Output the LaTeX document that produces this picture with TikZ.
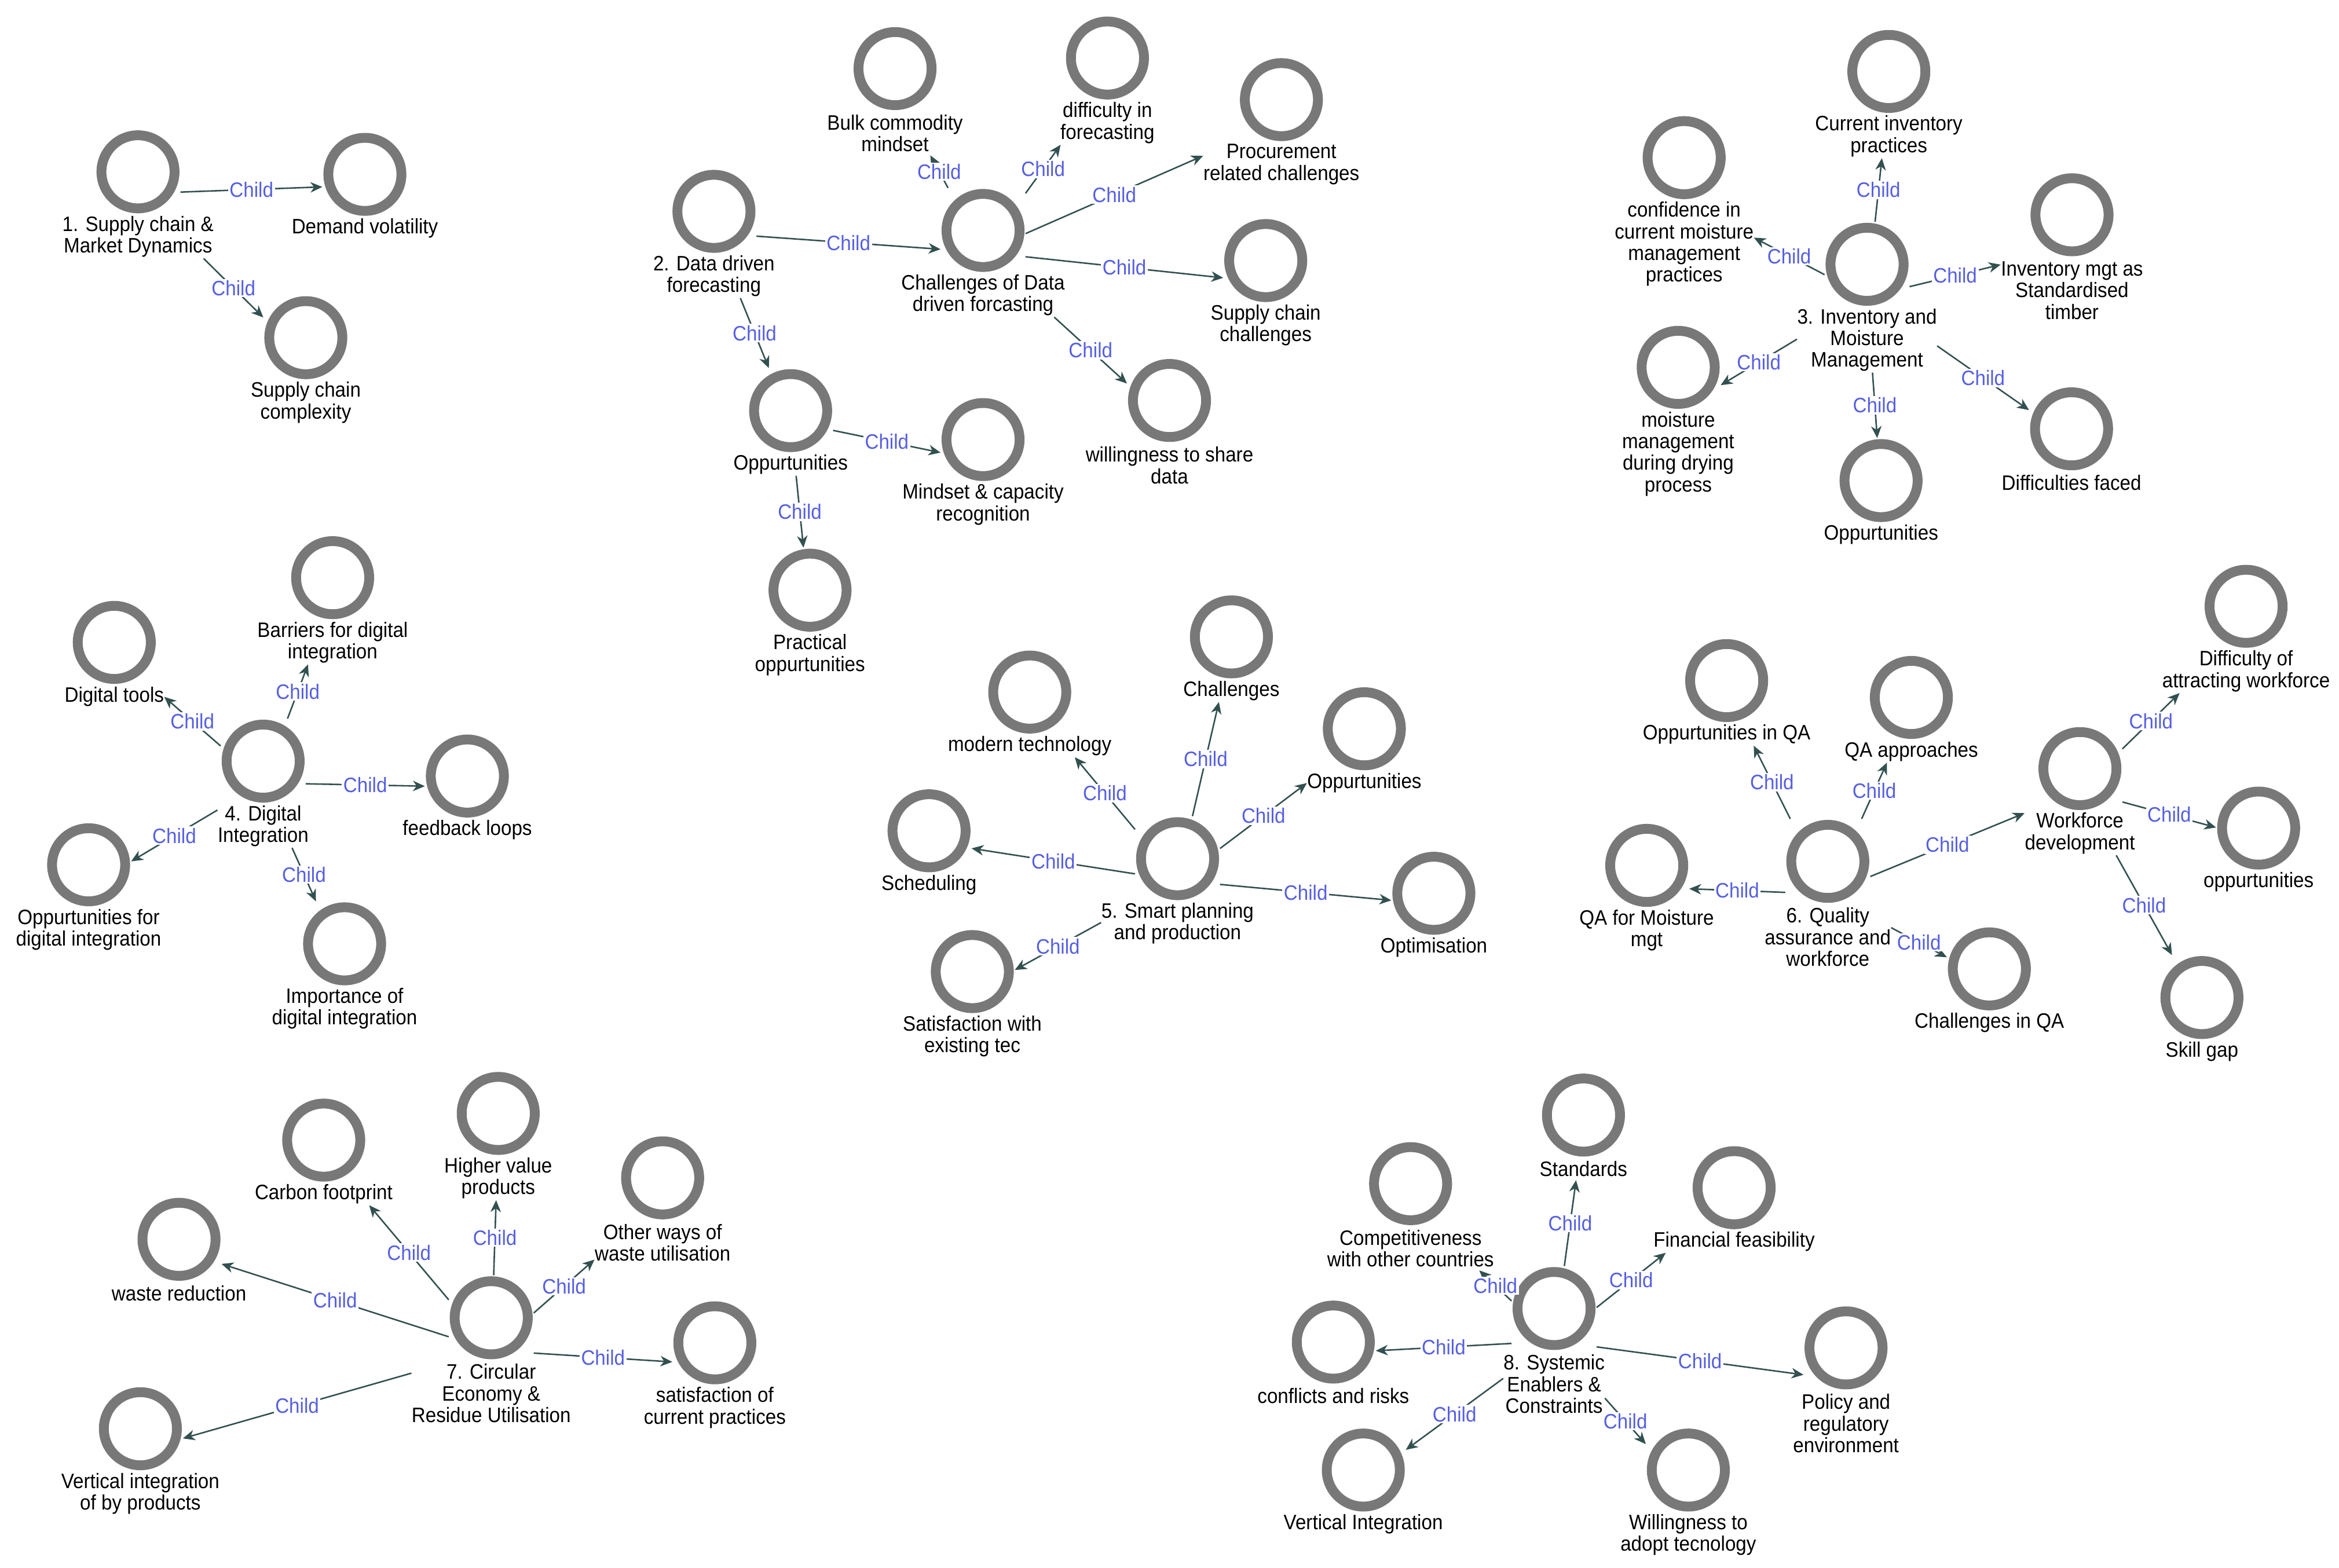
\documentclass[tikz,border=0pt]{standalone}
\usepackage{fontspec}
\setmainfont{Liberation Sans}[FakeStretch=0.92]
\usetikzlibrary{arrows.meta,intersections}
\definecolor{ringgray}{RGB}{120,120,120}
\definecolor{conncol}{RGB}{50,80,80}
\definecolor{childcol}{RGB}{85,95,225}
\newcommand{\lblfont}{\fontsize{14}{14.5}\selectfont}
\tikzset{
  ring/.style={circle, draw=ringgray, line width=6.6pt, fill=white, minimum size=49pt, inner sep=0pt},
  lbl/.style={anchor=north, inner sep=0pt, align=center, font=\lblfont, text=black},
  conn/.style={draw=conncol, line width=1pt, -{Stealth[length=8pt,width=7pt,inset=2.5pt]}},
  chl/.style={text=childcol, fill=white, inner sep=1pt, font=\lblfont}
}
% name, x, y, number of label lines, label
\newcommand{\topic}[5]{%
  \node[ring] (#1) at (#2,#3) {};
  \node[lbl, minimum height={14.5*#4}] (#1l) at ({#2},{#3+28.75}) {#5};
  \coordinate (#1m) at ({#2},{#3+0.125+7.25*#4});
  \path[name path global=#1o] ({#2-28.5},{#3-28.5}) -- ({#2+28.5},{#3-28.5}) -- ({#2+28.5},{#3+28.75})
     -- (#1l.north east) -- (#1l.south east) -- (#1l.south west) -- (#1l.north west)
     -- ({#2-28.5},{#3+28.75}) -- cycle;
}
\newcommand{\edge}[2]{%
  \path[name path=ln] (#1m) -- (#2m);
  \path[name intersections={of=ln and #1o, sort by=ln, name=sa, total=\nsa}] (sa-\nsa) coordinate (#1#2a);
  \path[name intersections={of=ln and #2o, sort by=ln, name=eb}] (eb-1) coordinate (#1#2b);
  \draw[conn] (#1#2a) -- node[chl] {Child} (#1#2b);
}
\begin{document}
\begin{tikzpicture}[x=1pt,y=-1pt]
\fill[white] (0,0) rectangle (1568,1051);
\useasboundingbox (0,0) rectangle (1568,1051);

% Group 1
\topic{A1}{92.5}{115.2}{2}{1. Supply chain \&\\Market Dynamics}
\topic{A2}{244.6}{116.9}{1}{Demand volatility}
\topic{A3}{205}{226.4}{2}{Supply chain\\complexity}

% Group 2
\topic{B1}{478.6}{141.7}{2}{2. Data driven\\forecasting}
\topic{B2}{659}{154.5}{2}{Challenges of Data\\driven forcasting}
\topic{B3}{600}{46}{2}{Bulk commodity\\mindset}
\topic{B4}{742.4}{38.9}{2}{difficulty in\\forecasting}
\topic{B5}{859}{66.8}{2}{Procurement\\related challenges}
\topic{B6}{848.5}{174.7}{2}{Supply chain\\challenges}
\topic{B7}{784}{268.5}{2}{willingness to share\\data}
\topic{B8}{530}{275.3}{1}{Oppurtunities}
\topic{B9}{659}{294.7}{2}{Mindset \& capacity\\recognition}
\topic{B10}{543}{395.7}{2}{Practical\\oppurtunities}

% Group 3
\topic{C1}{1251.6}{177.2}{3}{3. Inventory and\\Moisture\\Management}
\topic{C2}{1266.2}{47.9}{2}{Current inventory\\practices}
\topic{C3}{1129}{105.7}{4}{confidence in\\current moisture\\management\\practices}
\topic{C4}{1389}{144}{3}{Inventory mgt as\\Standardised\\timber}
\topic{C5}{1125}{246.3}{4}{moisture\\management\\during drying\\process}
\topic{C6}{1261}{322.2}{1}{Oppurtunities}
\topic{C7}{1388.7}{287.5}{1}{Difficulties faced}

% Group 4
\topic{D1}{176.4}{510.3}{2}{4. Digital\\Integration}
\topic{D2}{223}{387.3}{2}{Barriers for digital\\integration}
\topic{D3}{76.6}{430.7}{1}{Digital tools}
\topic{D4}{313.3}{520.3}{1}{feedback loops}
\topic{D5}{59.4}{579.8}{2}{Oppurtunities for\\digital integration}
\topic{D6}{231}{632.8}{2}{Importance of\\digital integration}

% Group 5
\topic{E1}{789.4}{575.7}{2}{5. Smart planning\\and production}
\topic{E2}{825.5}{427}{1}{Challenges}
\topic{E3}{690.3}{464}{1}{modern technology}
\topic{E4}{914.6}{488.6}{1}{Oppurtunities}
\topic{E5}{622.8}{557}{1}{Scheduling}
\topic{E6}{961.2}{598.9}{1}{Optimisation}
\topic{E7}{651.8}{651.4}{2}{Satisfaction with\\existing tec}

% Group 6
\topic{F1}{1225.3}{577.5}{3}{6. Quality\\assurance and\\workforce}
\topic{F2}{1157.5}{456.3}{1}{Oppurtunities in QA}
\topic{F3}{1281.3}{467.6}{1}{QA approaches}
\topic{F4}{1103.9}{580.2}{2}{QA for Moisture\\mgt}
\topic{F5}{1333.6}{649.6}{1}{Challenges in QA}
\topic{F6}{1394.3}{515.3}{2}{Workforce\\development}
\topic{F7}{1505.7}{406.5}{2}{Difficulty of\\attracting workforce}
\topic{F8}{1514.1}{555.2}{1}{oppurtunities}
\topic{F9}{1476.1}{668.8}{1}{Skill gap}

% Group 7
\topic{G1}{329.3}{883.5}{3}{7. Circular\\Economy \&\\Residue Utilisation}
\topic{G2}{217}{764.4}{1}{Carbon footprint}
\topic{G3}{334}{746.5}{2}{Higher value\\products}
\topic{G4}{444.2}{789.7}{2}{Other ways of\\waste utilisation}
\topic{G5}{120}{830.9}{1}{waste reduction}
\topic{G6}{479.2}{900.3}{2}{satisfaction of\\current practices}
\topic{G7}{94.1}{957.9}{2}{Vertical integration\\of by products}

% Group 8
\topic{H1}{1041.8}{877.3}{3}{8. Systemic\\Enablers \&\\Constraints}
\topic{H2}{1061.5}{747.6}{1}{Standards}
\topic{H3}{945.6}{793.6}{2}{Competitiveness\\with other countries}
\topic{H4}{1162.5}{796.3}{1}{Financial feasibility}
\topic{H5}{893.8}{899.8}{1}{conflicts and risks}
\topic{H6}{1237.5}{903.7}{3}{Policy and\\regulatory\\environment}
\topic{H7}{913.9}{985.6}{1}{Vertical Integration}
\topic{H8}{1131.8}{985.6}{2}{Willingness to\\adopt tecnology}

% Connectors
\edge{A1}{A2}
\edge{A1}{A3}

\edge{B1}{B2}
\edge{B1}{B8}
\edge{B2}{B3}
\edge{B2}{B4}
\edge{B2}{B5}
\edge{B2}{B6}
\edge{B2}{B7}
\edge{B8}{B9}
\edge{B8}{B10}

\edge{C1}{C2}
\edge{C1}{C3}
\edge{C1}{C4}
\edge{C1}{C5}
\edge{C1}{C6}
\edge{C1}{C7}

\edge{D1}{D2}
\edge{D1}{D3}
\edge{D1}{D4}
\edge{D1}{D5}
\edge{D1}{D6}

\edge{E1}{E2}
\edge{E1}{E3}
\edge{E1}{E4}
\edge{E1}{E5}
\edge{E1}{E6}
\edge{E1}{E7}

\edge{F1}{F2}
\edge{F1}{F3}
\edge{F1}{F4}
\edge{F1}{F5}
\edge{F1}{F6}
\edge{F6}{F7}
\edge{F6}{F8}
\edge{F6}{F9}

\edge{G1}{G2}
\edge{G1}{G3}
\edge{G1}{G4}
\edge{G1}{G5}
\edge{G1}{G6}
\edge{G1}{G7}

\edge{H1}{H2}
\edge{H1}{H3}
\edge{H1}{H4}
\edge{H1}{H5}
\edge{H1}{H6}
\edge{H1}{H7}
\edge{H1}{H8}
\end{tikzpicture}
\end{document}
